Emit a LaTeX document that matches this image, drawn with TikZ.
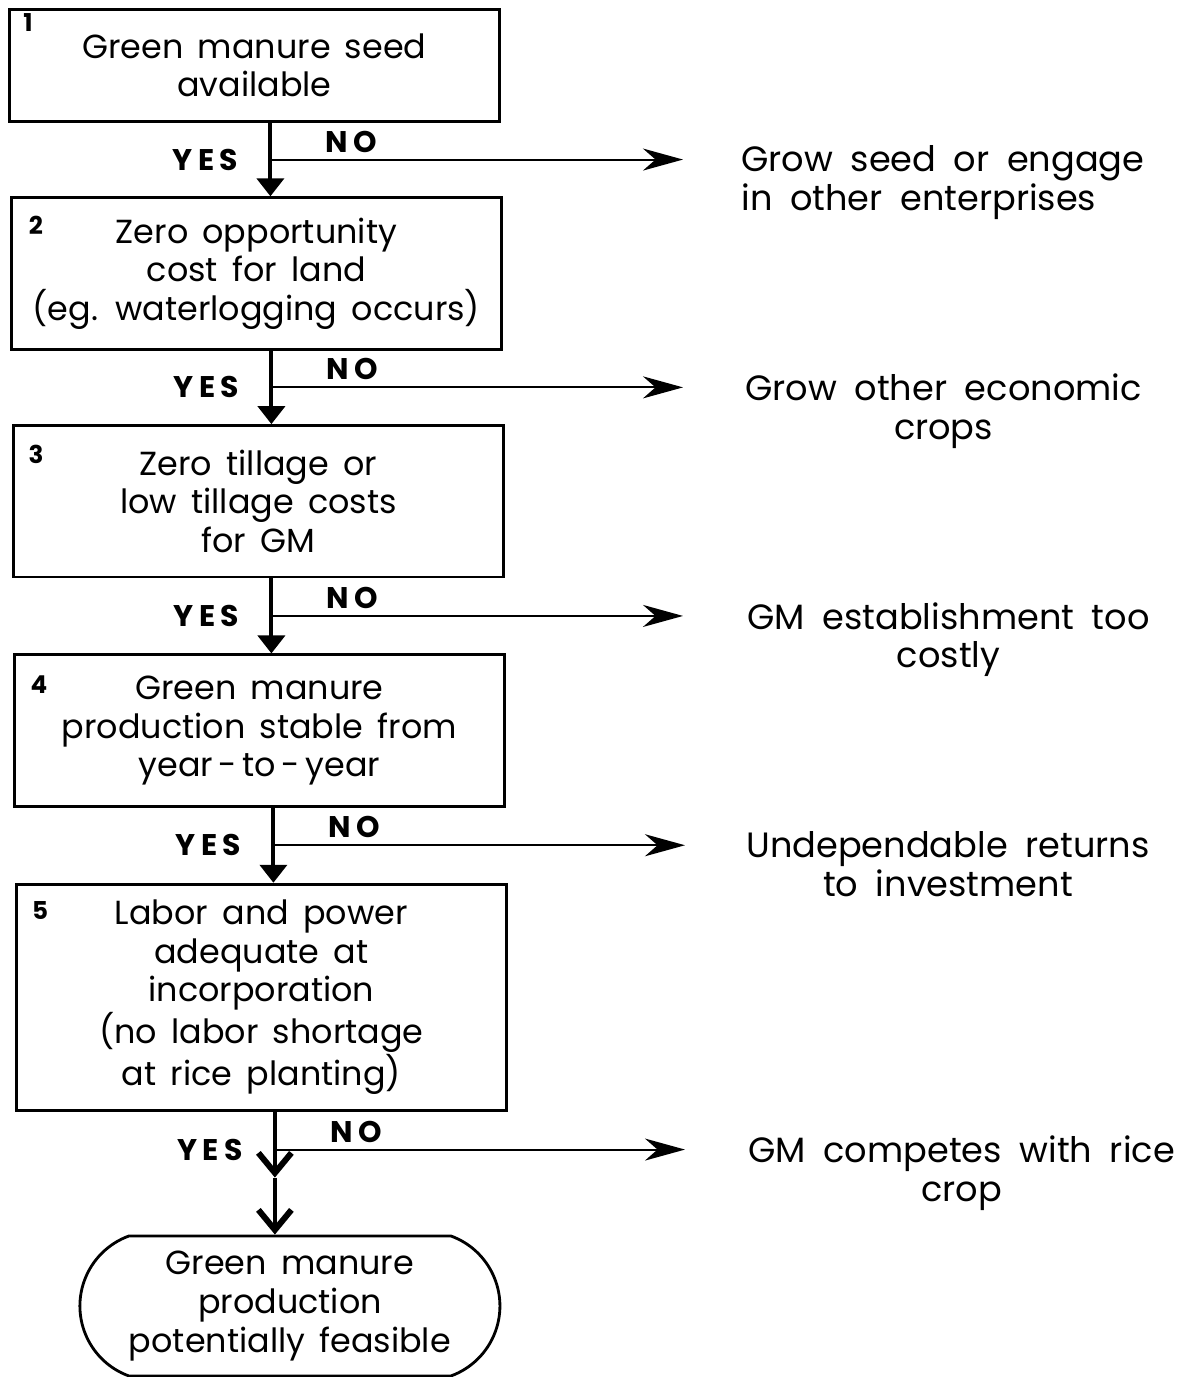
\documentclass[tikz,border=0pt]{standalone}
\usepackage{fontspec}
\setmainfont{Poppins}[WordSpace=1.6]
\usepackage{tikz}
\usetikzlibrary{positioning, shapes.misc, arrows.meta, calc}
\newcommand{\boxfont}{\fontsize{19}{22}\selectfont}
\newcommand{\outfont}{\fontsize{20}{22}\selectfont\spaceskip=0.5em plus 0.1em minus 0.05em\relax}
\newcommand{\tagfont}{\fontsize{14}{16}\selectfont\bfseries}
\newcommand{\ynfont}{\fontsize{17}{19}\selectfont\bfseries\addfontfeature{LetterSpace=18}}

\begin{document}
\begin{tikzpicture}[
                question/.style={draw=black, line width=1.6pt, rectangle, minimum width=9.8cm, minimum height=3.03cm, inner sep=0pt, align=center, font=\boxfont},
                result/.style={draw=black, line width=1.6pt, rounded rectangle, rounded rectangle arc length=140, minimum width=8.4cm, minimum height=2.8cm, inner sep=0pt, align=center, font=\boxfont},
                outcome/.style={inner sep=0pt, font=\outfont},
                numtag/.style={inner sep=0pt, font=\tagfont},
                answer/.style={inner sep=0pt, font=\ynfont},
                yesflow/.style={line width=2.3pt, -{Triangle[length=0.36cm, width=0.54cm]}},
                noflow/.style={line width=1.2pt, -{Stealth[length=0.8cm, width=0.44cm, inset=0.25cm]}},
                barbflow/.style={line width=2.3pt, -{Straight Barb[length=0.4cm, width=0.66cm, line width=3.4pt]}}
            ]
            \useasboundingbox (0,0) rectangle (23.62,-27.54);

            % Kaesten
            \node[question, minimum height=2.24cm, anchor=north west] (b1) at (0.16,-0.16) {Green manure seed\\available};
            \node[question, below=1.47cm of b1.south west, anchor=north west, xshift=0.04cm] (b2) {Zero opportunity\\cost for land\\(eg. waterlogging occurs)};
            \node[question, below=1.47cm of b2.south west, anchor=north west, xshift=0.04cm] (b3) {Zero tillage or\\low tillage costs\\for GM};
            \node[question, below=1.5cm of b3.south west, anchor=north west, xshift=0.02cm] (b4) {Green manure\\production stable from\\year\,-\,to\,-\,year};
            \node[question, minimum height=4.52cm, below=1.5cm of b4.south west, anchor=north west, xshift=0.04cm] (b5) {Labor and power\\adequate at\\incorporation\\(no labor shortage\\at rice planting)};
            \node[result, below=2.46cm of b5, xshift=0.57cm] (end) {Green manure\\production\\potentially feasible};

            \node[numtag] (n1) at ([xshift=0.4cm, yshift=-0.3cm]b1.north west) {1};
            \node[numtag] (n2) at ([xshift=0.52cm, yshift=-0.58cm]b2.north west) {2};
            \node[numtag] (n3) at ([xshift=0.48cm, yshift=-0.6cm]b3.north west) {3};
            \node[numtag] (n4) at ([xshift=0.52cm, yshift=-0.62cm]b4.north west) {4};
            \node[numtag] (n5) at ([xshift=0.5cm, yshift=-0.56cm]b5.north west) {5};

            % Verzweigungen
            \coordinate (j1) at ($(b1.south)!0.5!(b2.north) + (0.3,0)$);
            \coordinate (j2) at ($(b2.south)!0.5!(b3.north) + (0.28,0)$);
            \coordinate (j3) at ($(b3.south)!0.5!(b4.north) + (0.25,0)$);
            \coordinate (j4) at ($(b4.south)!0.5!(b5.north) + (0.26,0)$);
            \coordinate (j5) at ($(b5.south) + (0.27,-0.76)$);
            \coordinate (t1) at (j1 -| 13.66,0);
            \coordinate (t2) at (j2 -| 13.66,0);
            \coordinate (t3) at (j3 -| 13.66,0);
            \coordinate (t4) at (j4 -| 13.7,0);
            \coordinate (t5) at (j5 -| 13.7,0);
            \coordinate (m5) at ($(b5.south -| j5) + (0,-1.32)$);

            % Pfeile
            \draw[yesflow] (b1.south -| j1) -- (b2.north -| j1);
            \draw[yesflow] (b2.south -| j2) -- (b3.north -| j2);
            \draw[yesflow] (b3.south -| j3) -- (b4.north -| j3);
            \draw[yesflow] (b4.south -| j4) -- (b5.north -| j4);
            \draw[barbflow] (b5.south -| j5) -- (m5);
            \draw[barbflow] (m5) -- (end.north -| j5);
            \draw[noflow] (j1) -- (t1);
            \draw[noflow] (j2) -- (t2);
            \draw[noflow] (j3) -- (t3);
            \draw[noflow] (j4) -- (t4);
            \draw[noflow] (j5) -- (t5);

            % Beschriftungen
            \node[answer, left=0.64cm of j1] (y1) {YES};
            \node[answer, left=0.64cm of j2] (y2) {YES};
            \node[answer, left=0.64cm of j3] (y3) {YES};
            \node[answer, left=0.64cm of j4] (y4) {YES};
            \node[answer, left=0.64cm of j5] (y5) {YES};
            \node[answer, above right=0.14cm and 1.1cm of j1] (o1) {NO};
            \node[answer, above right=0.14cm and 1.1cm of j2] (o2) {NO};
            \node[answer, above right=0.14cm and 1.1cm of j3] (o3) {NO};
            \node[answer, above right=0.14cm and 1.1cm of j4] (o4) {NO};
            \node[answer, above right=0.14cm and 1.1cm of j5] (o5) {NO};

            \node[outcome, align=left, right=1.16cm of t1, anchor=north west, yshift=0.28cm] (r1) {Grow seed or engage\\in other enterprises};
            \node[outcome, align=center, right=1.24cm of t2, anchor=north west, yshift=0.28cm] (r2) {Grow other economic\\crops};
            \node[outcome, align=center, right=1.28cm of t3, anchor=north west, yshift=0.28cm] (r3) {GM establishment too\\costly};
            \node[outcome, align=center, right=1.22cm of t4, anchor=north west, yshift=0.28cm] (r4) {Undependable returns\\to investment};
            \node[outcome, align=center, right=1.26cm of t5, anchor=north west, yshift=0.28cm] (r5) {GM competes with rice\\crop};

        \end{tikzpicture}
\end{document}
